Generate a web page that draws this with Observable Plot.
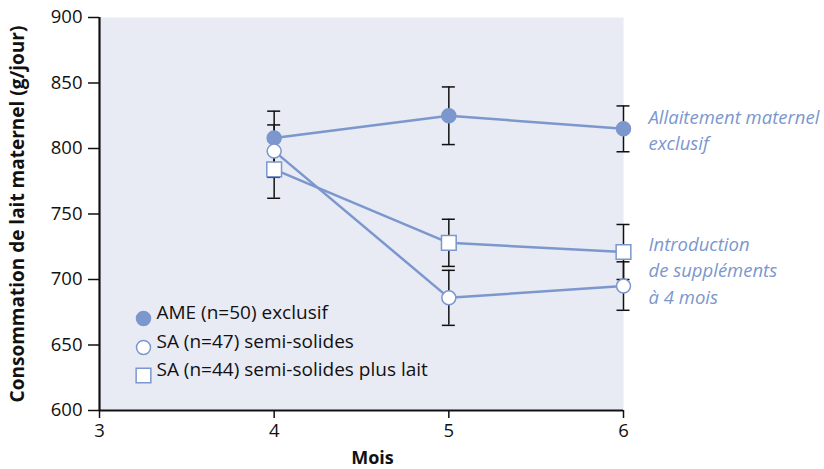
<!DOCTYPE html>
<html>
<head>
<meta charset="utf-8">
<script src="https://cdn.jsdelivr.net/npm/d3@7"></script>
<script src="https://cdn.jsdelivr.net/npm/@observablehq/plot@0.6"></script>
<style>
  html, body { margin: 0; padding: 0; background: #fff; }
  #chart { width: 824px; height: 469px; }
</style>
</head>
<body>
<div id="chart"></div>
<script>
// ---- Data ----
const months = [4, 5, 6];
const seriesNames = ["AME (n=50) exclusif", "SA (n=47) semi-solides", "SA (n=44) semi-solides plus lait"];
const ameMean = [808, 825, 815];
const ameErr = [20.5, 22, 17.5];
const semiMean = [798, 686, 695];
const semiErr = [20, 21, 18.5];
const laitMean = [784, 728, 721];
const laitErr = [22, 18, 21];
const xTicks = [3, 4, 5, 6];
const yTicks = [600, 650, 700, 750, 800, 850, 900];
const annotationTop = "Allaitement maternel\nexclusif";
const annotationBottom = "Introduction\nde suppléments\nà 4 mois";
const xLabel = "Mois";
const yLabel = "Consommation de lait maternel (g/jour)";

// ---- Styles ----
const blue = "#7b97cd";
const font = "'Open Sans', 'DejaVu Sans', sans-serif";

const means = [ameMean, semiMean, laitMean];
const errs = [ameErr, semiErr, laitErr];
const rows = [];
seriesNames.forEach((s, si) => {
  months.forEach((m, i) => {
    rows.push({series: s, si, month: m, value: means[si][i], lo: means[si][i] - errs[si][i], hi: means[si][i] + errs[si][i]});
  });
});

const markStyle = [
  {symbol: "circle", fill: blue, r: 7},
  {symbol: "circle", fill: "white", r: 7},
  {symbol: "square", fill: "white", r: 8.3}
];

const legendMarks = [];
seriesNames.forEach((s, si) => {
  const dy = [-92, -63, -35][si];
  legendMarks.push(Plot.dot([s], {frameAnchor: "bottom-left", dx: 44, dy, symbol: markStyle[si].symbol, r: markStyle[si].r, fill: markStyle[si].fill, stroke: blue, strokeWidth: 1.5}));
  legendMarks.push(Plot.text([s], {frameAnchor: "bottom-left", dx: 57, dy, text: d => d, textAnchor: "start", fontSize: 19, fill: "#111", fontFamily: font}));
});

const seriesMarks = [];
seriesNames.forEach((s, si) => {
  const data = rows.filter(r => r.si === si);
  seriesMarks.push(Plot.dot(data, {x: "month", y: "value", symbol: markStyle[si].symbol, r: markStyle[si].r, fill: markStyle[si].fill, stroke: blue, strokeWidth: 1.5}));
});

const lastAme = {month: months[2], value: ameMean[2], text: annotationTop};
const lastSupp = {month: months[2], value: (semiMean[2] + laitMean[2]) / 2, text: annotationBottom};

const plot = Plot.plot({
  width: 824,
  height: 469,
  marginLeft: 99,
  marginRight: 201,
  marginTop: 17,
  marginBottom: 59,
  style: {fontFamily: font, background: "white", overflow: "visible"},
  x: {domain: [3, 6]},
  y: {domain: [600, 900]},
  marks: [
    Plot.frame({fill: "#e8eaf4", stroke: null}),
    Plot.axisX({ticks: xTicks, tickFormat: d => d, tickSize: 8, tickPadding: 5, fontSize: 18.5, stroke: "#111", strokeWidth: 1.5, color: "#111", label: null}),
    Plot.axisY({ticks: yTicks, tickFormat: d => d, tickSize: 11, tickPadding: 6, fontSize: 18.5, stroke: "#111", strokeWidth: 1.5, color: "#111", label: null}),
    Plot.ruleX([3], {stroke: "#111", strokeWidth: 2.2}),
    Plot.ruleY([600], {stroke: "#111", strokeWidth: 2.2}),
    // error bars
    Plot.ruleX(rows, {x: "month", y1: "lo", y2: "hi", stroke: "#111", strokeWidth: 1.5}),
    Plot.ruleY(rows, {y: "lo", x1: "month", x2: "month", insetLeft: -6.5, insetRight: -6.5, stroke: "#111", strokeWidth: 1.5}),
    Plot.ruleY(rows, {y: "hi", x1: "month", x2: "month", insetLeft: -6.5, insetRight: -6.5, stroke: "#111", strokeWidth: 1.5}),
    // lines
    Plot.line(rows, {x: "month", y: "value", z: "series", stroke: blue, strokeWidth: 2.5}),
    ...seriesMarks,
    ...legendMarks,
    // annotations
    Plot.text([lastAme, lastSupp], {x: "month", y: "value", text: "text", dx: 25, textAnchor: "start", lineAnchor: "middle", lineHeight: 1.42, fontSize: 18.5, fontStyle: "italic", fill: blue, fontFamily: font}),
    // axis titles
    Plot.text([xLabel], {frameAnchor: "bottom", dx: 11, dy: 53, text: d => d, fontWeight: "bold", fontSize: 18, fill: "#111", fontFamily: font}),
    Plot.text([yLabel], {frameAnchor: "left", dx: -82, rotate: -90, textAnchor: "middle", text: d => d, fontWeight: "bold", fontSize: 19, fill: "#111", fontFamily: font})
  ]
});
document.getElementById("chart").appendChild(plot);
</script>
</body>
</html>
